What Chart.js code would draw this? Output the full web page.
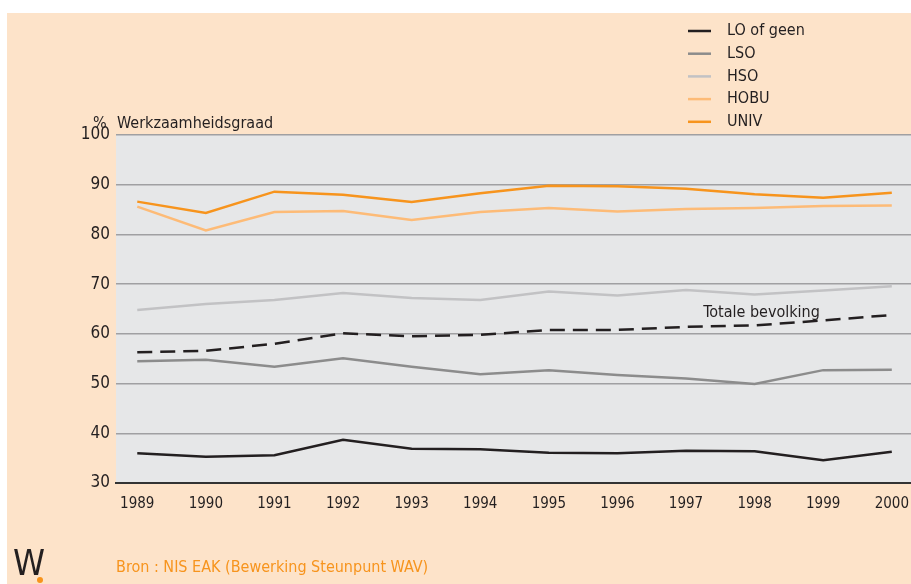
<!DOCTYPE html>
<html>
<head>
<meta charset="utf-8">
<script src="https://cdn.jsdelivr.net/npm/chart.js@4.4.1/dist/chart.umd.min.js"></script>
<style>
  html, body { margin: 0; padding: 0; background: #fff; }
  #wrap { width: 911px; height: 584px; position: relative; }
</style>
</head>
<body>
<div id="wrap"><canvas id="plot"></canvas></div>
<script>
const FONT = "'Liberation Sans Narrow', 'DejaVu Sans Condensed', 'Roboto', sans-serif";

const years = [1989, 1990, 1991, 1992, 1993, 1994, 1995, 1996, 1997, 1998, 1999, 2000];
const yTicks = [30, 40, 50, 60, 70, 80, 90, 100];

const loOfGeen = [36.0, 35.3, 35.6, 38.7, 36.9, 36.8, 36.1, 36.0, 36.5, 36.4, 34.6, 36.3];
const lso      = [54.5, 54.8, 53.4, 55.1, 53.4, 51.9, 52.7, 51.7, 51.0, 49.9, 52.7, 52.8];
const hso      = [64.8, 66.0, 66.8, 68.2, 67.2, 66.8, 68.5, 67.7, 68.8, 67.9, 68.7, 69.6];
const hobu     = [85.6, 80.8, 84.5, 84.7, 82.9, 84.5, 85.3, 84.6, 85.1, 85.3, 85.7, 85.8];
const univ     = [86.6, 84.3, 88.6, 88.0, 86.5, 88.3, 89.8, 89.7, 89.2, 88.1, 87.4, 88.4];
const totaal   = [56.3, 56.6, 58.0, 60.1, 59.5, 59.8, 60.8, 60.8, 61.4, 61.7, 62.7, 63.8];

const pts = arr => arr.map((v, i) => ({ x: years[i], y: v }));

const series = [
    { label: 'LO of geen', data: loOfGeen, color: '#231f20' },
    { label: 'LSO', data: lso, color: '#8c8c8c' },
    { label: 'HSO', data: hso, color: '#c2c2c4' },
    { label: 'HOBU', data: hobu, color: '#fdbb77' },
    { label: 'UNIV', data: univ, color: '#f7941d' }
];

const datasets = series.map(s => ({
    label: s.label,
    data: pts(s.data),
    borderColor: s.color,
    borderWidth: 2.5,
    pointRadius: 0,
    tension: 0,
    fill: false
}));
datasets.push({
    label: 'Totale bevolking',
    data: pts(totaal),
    borderColor: '#231f20',
    borderWidth: 2.5,
    borderDash: [15, 8],
    pointRadius: 0,
    tension: 0,
    fill: false,
    inLegend: false
});

// background: white margins, peach panel, grey plot area
const backdrop = {
    id: 'backdrop',
    beforeDraw(chart) {
        const { ctx, chartArea: a } = chart;
        ctx.save();
        ctx.fillStyle = '#ffffff';
        ctx.fillRect(0, 0, chart.width, chart.height);
        ctx.fillStyle = '#fde3c9';
        ctx.fillRect(7, 13, chart.width - 7, chart.height - 13);
        ctx.fillStyle = '#e6e7e8';
        ctx.fillRect(a.left, a.top, a.right - a.left, a.bottom - a.top);
        ctx.restore();
    }
};

// legend, titles, annotation, source
const extras = {
    id: 'extras',
    afterDraw(chart) {
        const { ctx, scales } = chart;
        ctx.save();
        ctx.textBaseline = 'middle';
        ctx.font = '16px ' + FONT;

        // legend
        let ly = 31;
        chart.data.datasets.forEach(ds => {
            if (ds.inLegend === false) return;
            ctx.strokeStyle = ds.borderColor;
            ctx.lineWidth = 2.5;
            ctx.beginPath();
            ctx.moveTo(688, ly);
            ctx.lineTo(711, ly);
            ctx.stroke();
            ctx.fillStyle = '#231f20';
            ctx.textAlign = 'left';
            ctx.fillText(ds.label, 727, ly);
            ly += 22.7;
        });

        // axis title
        ctx.fillStyle = '#231f20';
        ctx.fillText('%', 93, 124);
        ctx.fillText('Werkzaamheidsgraad', 117, 124);

        // annotation for the dashed line
        const ax = scales.x.getPixelForValue(1997.25);
        const ay = scales.y.getPixelForValue(64.3);
        ctx.fillText('Totale bevolking', ax, ay);

        // source
        ctx.fillStyle = '#f7941d';
        ctx.fillText('Bron : NIS EAK (Bewerking Steunpunt WAV)', 116, 568);

        // logo
        ctx.fillStyle = '#231f20';
        ctx.font = '36px ' + FONT;
        ctx.fillText('W', 13, 566);
        ctx.fillStyle = '#f7941d';
        ctx.beginPath();
        ctx.arc(40, 580, 3, 0, Math.PI * 2);
        ctx.fill();
        ctx.restore();
    }
};

new Chart(document.getElementById('plot'), {
    type: 'line',
    data: { datasets },
    options: {
        responsive: true,
        maintainAspectRatio: false,
        animation: false,
        layout: { padding: { left: 0, right: 0, top: 135, bottom: 0 } },
        plugins: { legend: { display: false }, tooltip: { enabled: false } },
        scales: {
            x: {
                type: 'linear',
                min: 1988.69,
                max: 2000.28,
                afterBuildTicks: scale => { scale.ticks = years.map(v => ({ value: v })); },
                afterFit: scale => {
                    scale.height = 101;
                    scale.paddingLeft = 0;
                    scale.paddingRight = 0;
                },
                grid: { display: false, drawTicks: false },
                border: { display: true, color: '#333333', width: 2 },
                ticks: {
                    color: '#231f20',
                    font: { family: FONT, size: 15 },
                    padding: 12,
                    maxRotation: 0,
                    autoSkip: false,
                    callback: v => String(v)
                }
            },
            y: {
                min: 30,
                max: 100,
                afterBuildTicks: scale => { scale.ticks = yTicks.map(v => ({ value: v })); },
                afterFit: scale => {
                    scale.width = 116;
                    scale.paddingTop = 0;
                    scale.paddingBottom = 0;
                },
                grid: {
                    drawTicks: false,
                    color: ctx => ctx.tick && ctx.tick.value === 30 ? '#333333' : '#a0a0a2',
                    lineWidth: ctx => ctx.tick && ctx.tick.value === 30 ? 2 : 1.5
                },
                border: { display: false },
                ticks: {
                    color: '#231f20',
                    font: { family: FONT, size: 17 },
                    padding: 6
                }
            }
        }
    },
    plugins: [backdrop, extras]
});
</script>
</body>
</html>
